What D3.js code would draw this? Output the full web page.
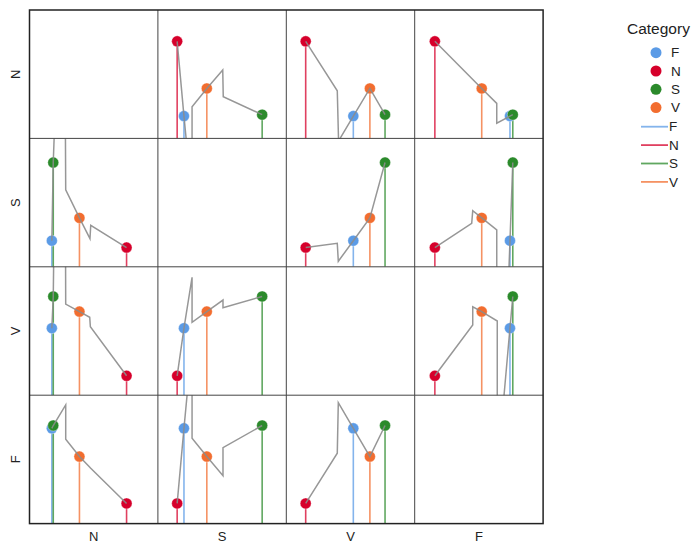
<!DOCTYPE html>
<html><head><meta charset="utf-8">
<script src="https://cdn.jsdelivr.net/npm/d3@7"></script>
<style>body{margin:0;background:#fff;} text{font-family:"Liberation Sans",Arial,sans-serif;fill:#222;}</style>
</head><body><svg id="c" width="698" height="543"></svg>
<script>
// dimensions of the matrix (rows/cols) and categories (series)
const dims = ["N","S","V","F"];
const categories = ["F","N","S","V"];
const colors = ["#5b9be6","#d6002b","#2b8a2b","#f26d2f"];
// values of each category (F,N,S,V) on each dimension
const valN = [17.4, 75.6, 18.5, 38.9];
const valS = [20.3, 15.0, 81.2, 38.1];
const valV = [52.2, 15.1, 76.9, 65.1];
const valF = [74.2, 15.7, 76.4, 52.2];
// gray trace vertices per cell (row|col): category key or [xValue, yValue]
const lineNS = ["N","F",[26.6,-48],[26.6,24.7],"V",[50.5,53.3],[50.9,32.5],"S"];
const lineNV = ["N",[39.7,37.1],[40.7,-2.0],"F","V","S"];
const lineNF = ["N","V",[63.9,27.3],[63.9,11.8],"F","S"];
const lineSN = ["F","S",[26.9,314.9],[28.2,60.0],"V",[47.1,21.9],[47.7,32.3],"N"];
const lineSV = ["N",[39.7,18.3],[40.5,4.3],"F","V","S"];
const lineSF = ["N",[44.4,33.9],[45.2,43.7],"V",[63.9,28.7],[63.9,-259.5],"F","S"];
const lineVN = ["F","S",[26.1,697],[28.2,71.0],"V",[46.9,60.7],[47.4,53.3],"N"];
const lineVS = ["N","F",[26.6,91.8],[26.6,56.8],"V",[50.7,74.1],[50.7,68.1],"S"];
const lineVF = ["N",[45.2,54.7],[45.2,68.9],"V",[64.3,57.8],[64.3,-59.5],"F","S"];
const lineFN = ["F","S",[28.2,92.4],[28.2,65.7],"V",[46.6,44.3],[47.5,43.3],"N"];
const lineFS = ["N","F",[26.6,141.4],[26.6,66.4],"V",[50.7,37.3],[50.7,59.1],"S"];
const lineFV = ["N",[39.7,54.8],[40.5,94.2],"F","V","S"];

const vals = {N: valN, S: valS, V: valV, F: valF};
const traces = {"N|S":lineNS,"N|V":lineNV,"N|F":lineNF,"S|N":lineSN,"S|V":lineSV,"S|F":lineSF,
  "V|N":lineVN,"V|S":lineVS,"V|F":lineVF,"F|N":lineFN,"F|S":lineFS,"F|V":lineFV};

const svg = d3.select("#c");
const x0 = 29.5, y0 = 10, cell = 128.4;
const bx = d3.scaleBand().domain(dims).range([x0, x0 + 4*cell]);
const by = d3.scaleBand().domain(dims).range([y0, y0 + 4*cell]);
const color = d3.scaleOrdinal().domain(categories).range(colors);
const vx = d3.scaleLinear().domain([0,100]).range([0, cell]);
const vy = d3.scaleLinear().domain([0,100]).range([cell, 0]);

const defs = svg.append("defs");
dims.forEach(r => dims.forEach(c => {
  if (r === c) return;
  defs.append("clipPath").attr("id", `clip-${r}${c}`)
    .append("rect").attr("width", cell).attr("height", cell);
}));

dims.forEach(r => dims.forEach(c => {
  if (r === c) return;
  const g = svg.append("g").attr("transform", `translate(${bx(c)},${by(r)})`)
    .attr("clip-path", `url(#clip-${r}${c})`);
  const pts = categories.map((k,i) => ({k, x: vals[c][i], y: vals[r][i]}));
  g.selectAll("line.stem").data(pts).join("line").attr("class","stem")
    .attr("x1", d => vx(d.x)).attr("x2", d => vx(d.x))
    .attr("y1", d => vy(d.y)).attr("y2", cell)
    .attr("stroke", d => color(d.k)).attr("stroke-width", 1.6).attr("stroke-opacity", 0.75);
  g.selectAll("circle").data(pts).join("circle")
    .attr("cx", d => vx(d.x)).attr("cy", d => vy(d.y)).attr("r", 5.5)
    .attr("fill", d => color(d.k)).attr("stroke", "#fff").attr("stroke-width", 0.6).attr("stroke-opacity",0.6);
  const tr = traces[`${r}|${c}`].map(v => typeof v === "string"
    ? [vals[c][categories.indexOf(v)], vals[r][categories.indexOf(v)]] : v);
  g.append("path").datum(tr)
    .attr("d", d3.line().x(d => vx(d[0])).y(d => vy(d[1])))
    .attr("fill","none").attr("stroke","#8c8c8c").attr("stroke-width",1.5).attr("stroke-opacity",0.9);
}));

// grid lines and frame
const grid = svg.append("g");
[1,2,3].forEach(i => {
  grid.append("line").attr("x1", x0 + i*cell).attr("x2", x0 + i*cell)
    .attr("y1", y0).attr("y2", y0 + 4*cell).attr("stroke","#444").attr("stroke-width",1);
  grid.append("line").attr("y1", y0 + i*cell).attr("y2", y0 + i*cell)
    .attr("x1", x0).attr("x2", x0 + 4*cell).attr("stroke","#444").attr("stroke-width",1);
});
grid.append("rect").attr("x", x0).attr("y", y0).attr("width", 4*cell).attr("height", 4*cell)
  .attr("fill","none").attr("stroke","#222").attr("stroke-width",1.5);

// axes (labels only)
const ax = svg.append("g").attr("transform", `translate(0,${y0 + 4*cell})`)
  .call(d3.axisBottom(bx).tickSize(0).tickPadding(8));
ax.select(".domain").remove();
ax.selectAll("text").attr("font-size", 13).style("font-family","Liberation Sans, Arial, sans-serif").attr("fill","#222");
const ay = svg.append("g").attr("transform", `translate(${x0},0)`)
  .call(d3.axisLeft(by).tickSize(0).tickPadding(0));
ay.select(".domain").remove();
ay.selectAll("text").attr("font-size", 13).style("font-family","Liberation Sans, Arial, sans-serif")
  .attr("fill","#222").attr("text-anchor","middle").attr("dy", 0)
  .attr("transform", "translate(-10,0) rotate(-90)").attr("x", 0).attr("y", 0);

// legend
const lg = svg.append("g");
lg.append("text").attr("x", 627).attr("y", 34).attr("font-size", 15.5).text("Category");
categories.forEach((k,i) => {
  lg.append("circle").attr("cx", 656).attr("cy", 52.7 + i*18.3).attr("r", 5.5).attr("fill", color(k));
  lg.append("text").attr("x", 671).attr("y", 52.7 + i*18.3).attr("dy","0.35em").attr("font-size", 13.5).text(k);
});
categories.forEach((k,i) => {
  const y = 126.7 + i*18.4;
  lg.append("line").attr("x1", 641).attr("x2", 668).attr("y1", y).attr("y2", y)
    .attr("stroke", color(k)).attr("stroke-width", 1.8).attr("stroke-opacity", 0.75);
  lg.append("text").attr("x", 669).attr("y", y).attr("dy","0.35em").attr("font-size", 13.5).text(k);
});
</script></body></html>
